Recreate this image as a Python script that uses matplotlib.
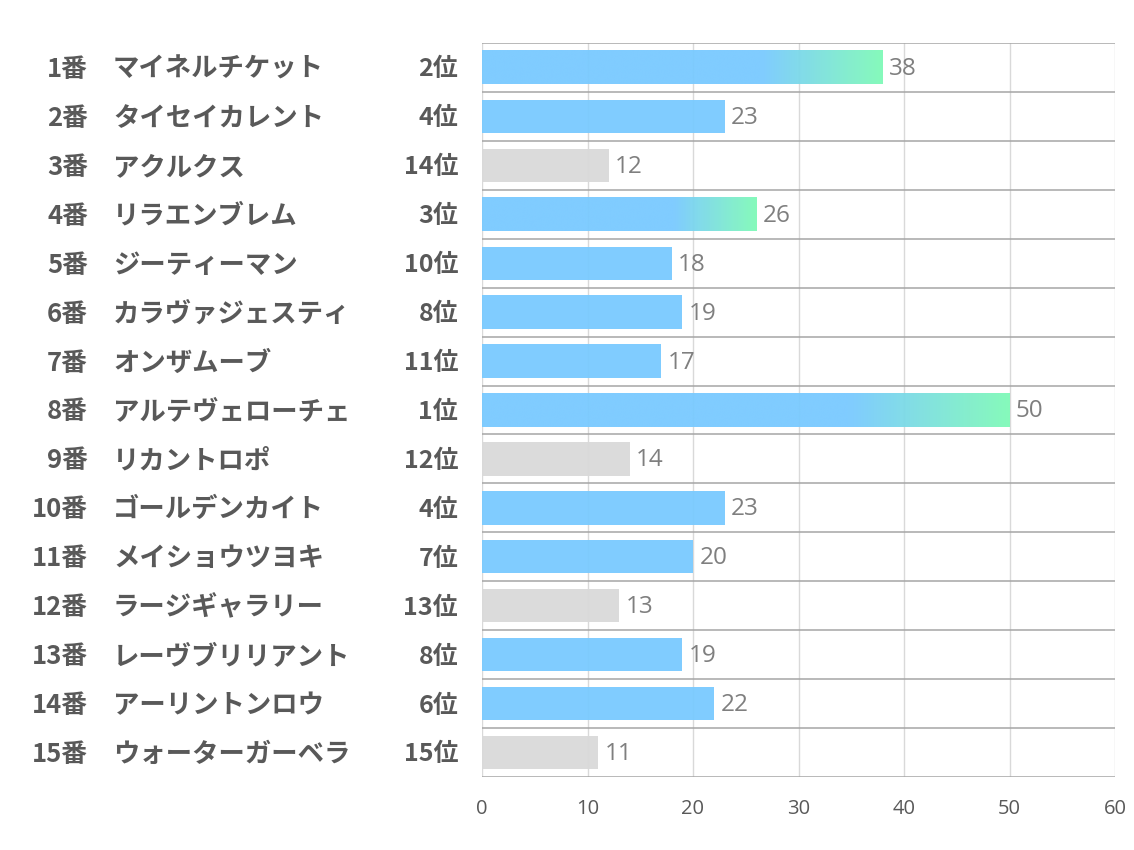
import numpy as np
import matplotlib
matplotlib.use("Agg")
import matplotlib.pyplot as plt
from matplotlib.colors import LinearSegmentedColormap
import matplotlib.transforms as mtransforms

plt.rcParams['font.family'] = ['Noto Sans CJK JP', 'DejaVu Sans']

numbers = ["1番", "2番", "3番", "4番", "5番", "6番", "7番", "8番", "9番", "10番",
           "11番", "12番", "13番", "14番", "15番"]
names = ["マイネルチケット", "タイセイカレント", "アクルクス", "リラエンブレム", "ジーティーマン",
         "カラヴァジェスティ", "オンザムーブ", "アルテヴェローチェ", "リカントロポ", "ゴールデンカイト",
         "メイショウツヨキ", "ラージギャラリー", "レーヴブリリアント", "アーリントンロウ", "ウォーターガーベラ"]
ranks = [2, 4, 14, 3, 10, 8, 11, 1, 12, 4, 7, 13, 8, 6, 15]
values = [38, 23, 12, 26, 18, 19, 17, 50, 14, 23, 20, 13, 19, 22, 11]
xticks = [0, 10, 20, 30, 40, 50, 60]

W, H = 1134, 850
fig = plt.figure(figsize=(W / 100, H / 100), dpi=100)
ax = fig.add_axes([482 / W, 1 - 777 / H, (1115 - 482) / W, (777 - 43) / H])

n = len(values)

blue = "#79CAFF"
green = "#80FAB8"
gray = "#D9D9D9"
bar_h = 0.68

cmap = LinearSegmentedColormap.from_list("g", [(0, blue), (0.70, blue), (1.0, green)])
grad = np.linspace(0, 1, 256).reshape(1, -1)

for i, (v, r) in enumerate(zip(values, ranks)):
    yc = i + 0.5
    if r <= 3:
        ax.imshow(grad, cmap=cmap, aspect='auto', extent=[0, v, yc + bar_h / 2, yc - bar_h / 2],
                  zorder=2, alpha=0.95, interpolation='bicubic')
    else:
        c = gray if r >= 12 else blue
        ax.barh(yc, v, height=bar_h, color=c, zorder=2, alpha=0.95, linewidth=0)
    ax.text(v + 0.6, yc + 0.03, str(v), va='center', ha='left', fontsize=17.5, color="#7F7F7F",
            family=['Open Sans', 'DejaVu Sans'], zorder=3)

ax.set_xlim(0, 60)
ax.set_ylim(n, 0)

# grid
for xv in xticks:
    ax.axvline(xv, color="#D9D9D9", lw=1, zorder=1)
for k in range(n + 1):
    ax.axhline(k, color="#A6A6A6", lw=1.1, zorder=1)

for s in ax.spines.values():
    s.set_visible(False)
ax.set_yticks([])
ax.set_xticks(xticks)
ax.set_xticklabels([str(t) for t in xticks], fontsize=14.5, color="#595959",
                   family=['Open Sans', 'DejaVu Sans'])
ax.tick_params(axis='x', length=0, pad=16)

trans = mtransforms.blended_transform_factory(fig.transFigure, ax.transData)
dy = 0.04
for i in range(n):
    yc = i + 0.5 + dy
    ax.text(88 / W, yc, numbers[i], transform=trans, ha='right', va='center', fontsize=18.5,
            fontweight='bold', color="#595959")
    ax.text(113 / W, yc, names[i], transform=trans, ha='left', va='center', fontsize=19,
            fontweight='bold', color="#595959")
    ax.text(458 / W, yc, f"{ranks[i]}位", transform=trans, ha='right', va='center', fontsize=18,
            fontweight='bold', color="#595959")

fig.savefig("out.png", dpi=100)
